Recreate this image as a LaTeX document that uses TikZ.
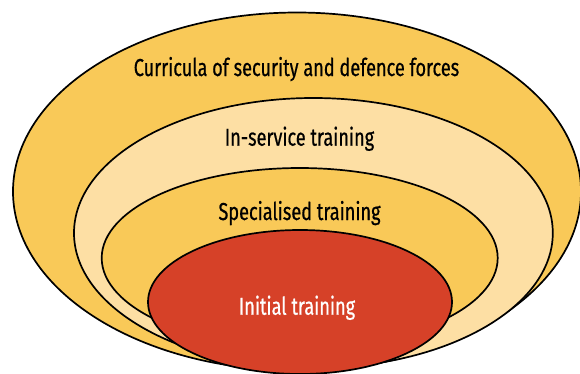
\documentclass[tikz,border=0pt]{standalone}
\usepackage{fontspec}
\setmainfont{Fira Sans}[FakeStretch=0.74, FakeBold=0.6]
\definecolor{ringgold}{HTML}{F9C958}
\definecolor{ringcream}{HTML}{FDDFA4}
\definecolor{corered}{HTML}{D64128}
\tikzset{
  ring/.style={draw=black, line width=1.7pt},
  label/.style={anchor=base, inner sep=0pt, font=\fontsize{24.5}{26}\selectfont},
}
\begin{document}
\begin{tikzpicture}[x=1pt,y=-1pt]
  \useasboundingbox (0,0) rectangle (580,373);
  \begin{scope}
    \clip (0,0) rectangle (580,373);
    % nested training levels, outermost first
    \path[ring, fill=ringgold]  (297,191.5) ellipse [x radius=284,   y radius=179];
    \path[ring, fill=ringcream] (313.4,233) ellipse [x radius=239.4, y radius=135];
    \path[ring, fill=ringgold]  (299.7,258) ellipse [x radius=198,   y radius=90];
    \path[ring, fill=corered]   (300,302)   ellipse [x radius=152,   y radius=72];
  \end{scope}
  \node[label] (curr) at (296.5,76)  {Curricula of security and defence forces};
  \node[label] (serv) at (299.5,145.7) {In-service training};
  \node[label] (spec) at (299.5,220) {Specialised training};
  \node[label, text=white] (init) at (297,314.7) {Initial training};
\end{tikzpicture}
\end{document}
